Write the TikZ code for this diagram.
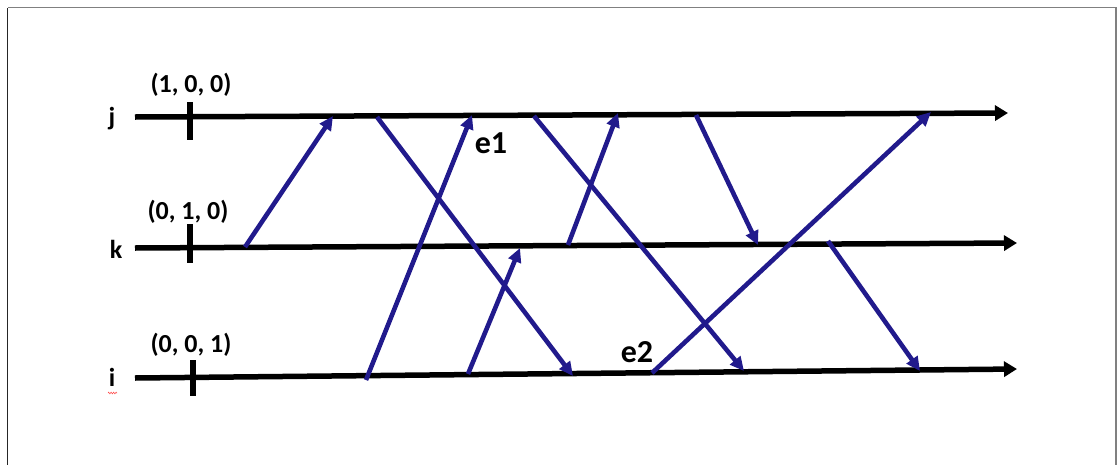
\documentclass[tikz,border=0pt]{standalone}
\usepackage{fontspec}
\setmainfont{Carlito}
\usetikzlibrary{arrows.meta,decorations.pathmorphing}
\definecolor{msgblue}{RGB}{33,26,140}
\begin{document}
\begin{tikzpicture}[x=1pt,y=-1pt,
  timeline/.style={line width=5.5pt, -{Triangle[length=13pt,width=15pt]}},
  tickmark/.style={line width=5.5pt},
  msg/.style={draw=msgblue, line width=4.6pt, -{Triangle[length=14pt,width=13pt]}},
  lbl/.style={font=\bfseries\fontsize{26}{30}\selectfont, inner sep=0pt},
  ev/.style={font=\bfseries\fontsize{32}{36}\selectfont, inner sep=0pt}]
\useasboundingbox (0,0) rectangle (1117,464);
% frame
\draw[line width=1.5pt, black!85] (7.5,470) -- (7.5,7.5);
\draw[line width=1.5pt, gray] (7.5,7.5) -- (1116.2,7.5) -- (1116.2,470);

% timelines
\coordinate (j0) at (135,117); \coordinate (j1) at (1008,113);
\coordinate (k0) at (135,248); \coordinate (k1) at (1017,243);
\coordinate (i0) at (135,378); \coordinate (i1) at (1017,369);
\draw[timeline] (j0) -- (j1);
\draw[timeline] (k0) -- (k1);
\draw[timeline] (i0) -- (i1);

% ticks
\draw[tickmark] (190,102) -- (190,140);
\draw[tickmark] (190,224) -- (190,263);
\draw[tickmark] (193,360) -- (193,396);

% process labels
\node[lbl] (lj) at (112,119) {j};
\node[lbl] (lk) at (116,249) {k};
\node[lbl] (li) at (112,377) {i};
\draw[red!70, line width=0.6pt, decoration={zigzag,amplitude=0.8pt,segment length=2.5pt}, decorate] (108,393) -- (117,393);

% vector clocks
\node[lbl] (vj) at (191,85) {(1, 0, 0)};
\node[lbl] (vk) at (188,212) {(0, 1, 0)};
\node[lbl] (vi) at (191,345) {(0, 0, 1)};

% message endpoints
\coordinate (m1s) at (245,247); \coordinate (m1e) at (333,116);
\coordinate (m2s) at (377,117); \coordinate (m2e) at (573,376);
\coordinate (m3s) at (366,380); \coordinate (m3e) at (472,115);
\coordinate (m4s) at (468,374); \coordinate (m4e) at (520,248);
\coordinate (m5s) at (568,245); \coordinate (m5e) at (618,113);
\coordinate (m6s) at (534,116); \coordinate (m6e) at (744,371);
\coordinate (m7s) at (696,115); \coordinate (m7e) at (758,245);
\coordinate (m8s) at (652,373); \coordinate (m8e) at (931,112);
\coordinate (m9s) at (828,241); \coordinate (m9e) at (920,371);

\foreach \n in {1,...,9} {\draw[msg] (m\n s) -- (m\n e);}

% events
\node[ev] (e1) at (491,143) {e1};
\node[ev] (e2) at (637,352) {e2};
\end{tikzpicture}
\end{document}
